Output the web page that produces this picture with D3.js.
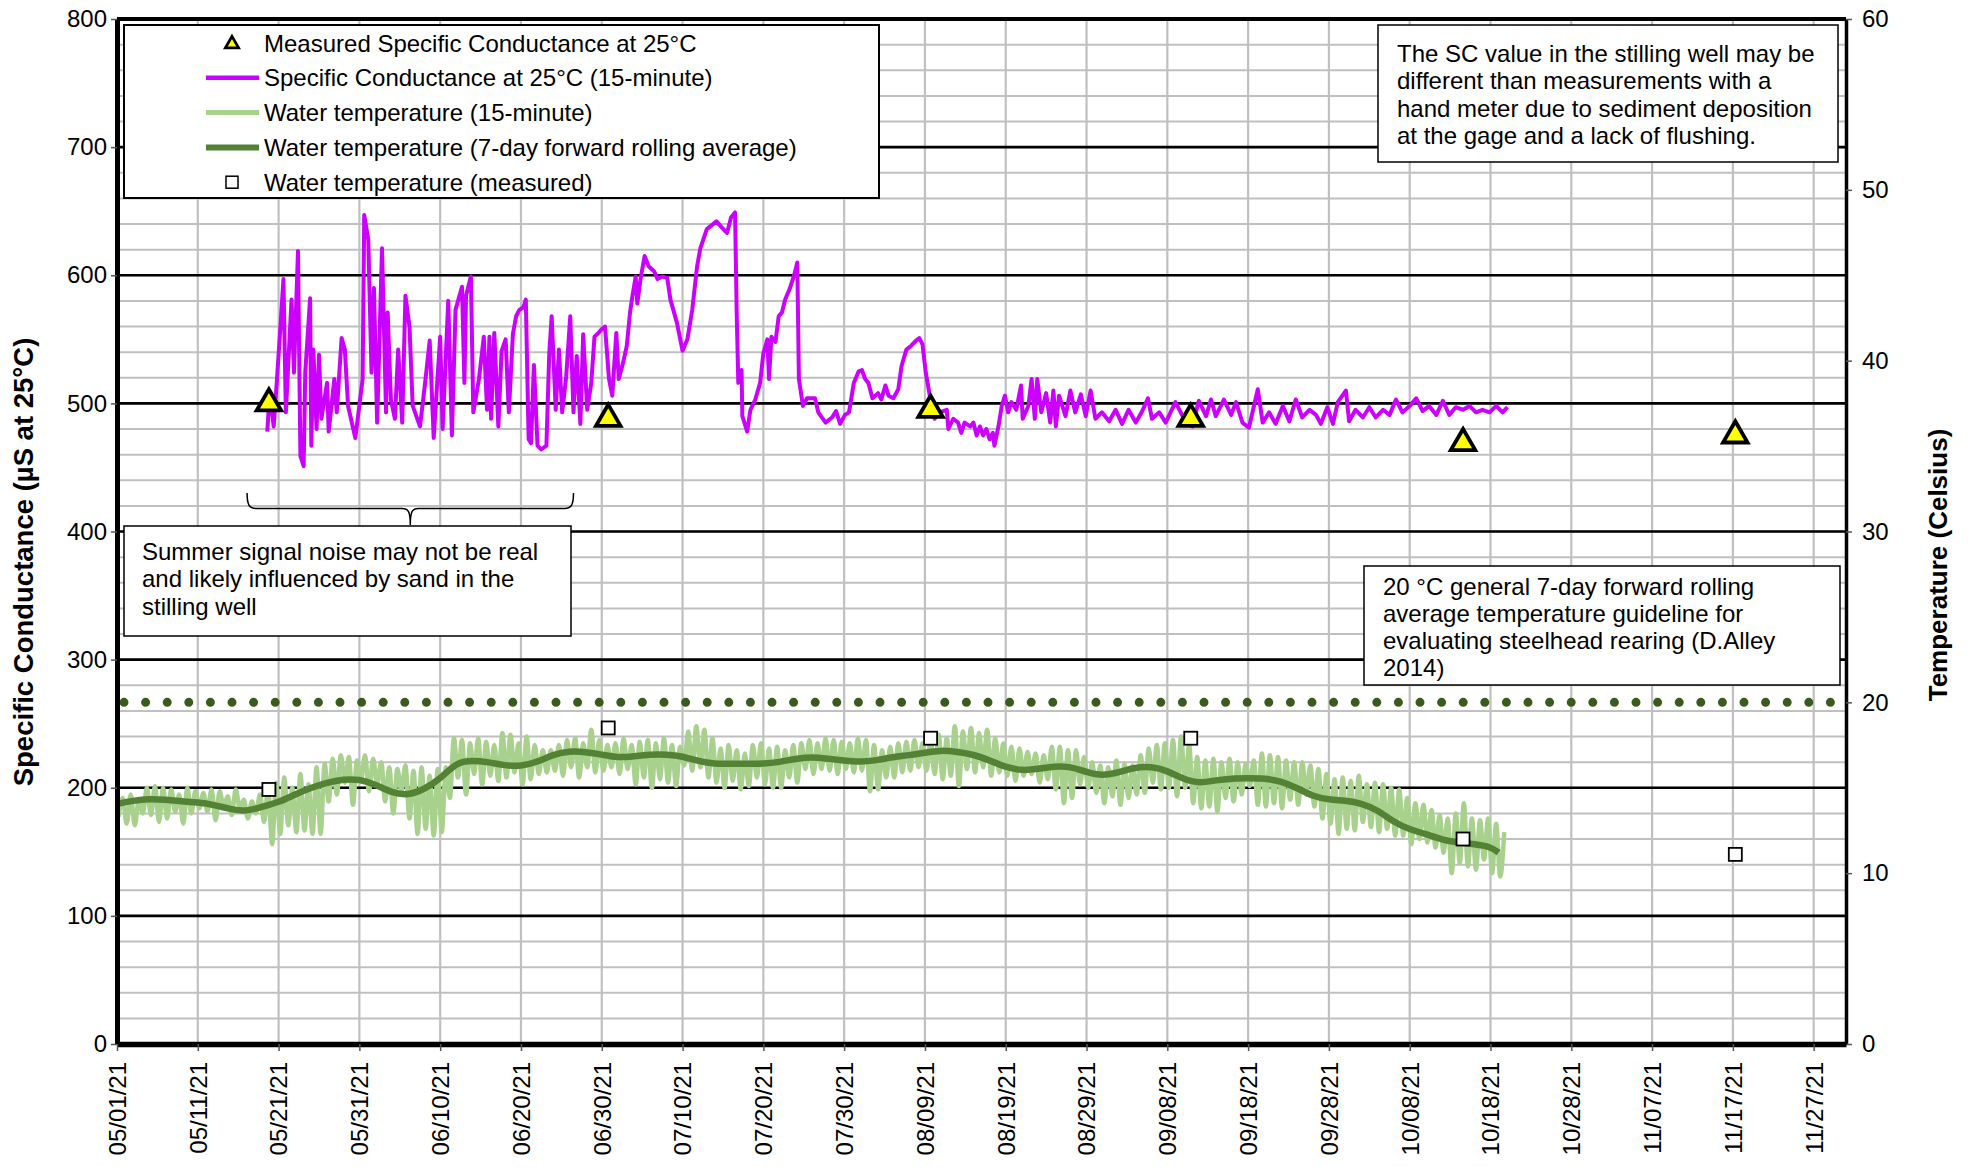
<!DOCTYPE html>
<html>
<head>
<meta charset="utf-8">
<script src="https://cdn.jsdelivr.net/npm/d3@7"></script>
<style>
  body { margin: 0; background: #fff; }
  svg text { font-family: "Liberation Sans", Arial, sans-serif; fill: #000; }
</style>
</head>
<body>
<svg id="chart"></svg>
<script>
// x tick labels, every 10 days from 05/01/21
const tickLabels = ["05/01/21", "05/11/21", "05/21/21", "05/31/21", "06/10/21", "06/20/21", "06/30/21",
  "07/10/21", "07/20/21", "07/30/21", "08/09/21", "08/19/21", "08/29/21", "09/08/21", "09/18/21",
  "09/28/21", "10/08/21", "10/18/21", "10/28/21", "11/07/21", "11/17/21", "11/27/21"];
const scTicks = [0, 100, 200, 300, 400, 500, 600, 700, 800];
const tempTicks = [0, 10, 20, 30, 40, 50, 60];
const guideline = 20;

// field measurements, day offset from 05/01/21
const measDay = [18.8, 60.8, 100.7, 132.9, 166.6, 200.3];
const measSC = [500, 488, 495, 488, 469, 475];
const measTemp = [14.9, 18.5, 17.9, 17.9, 12.0, 11.1];

// 15-minute specific conductance [day offset, uS]
const scSeries = [[18.6,478],[18.9,508],[19.4,482],[19.8,519],[20.25,562],[20.6,597],[20.9,493],[21.6,581],[21.9,524],[22.4,619],[22.7,459],[23.1,451],[23.3,524],[23.9,582],[24.05,467],[24.3,542],[24.7,480],[25.0,538],[25.3,488],[26.0,516],[26.2,478],[26.9,519],[27.2,493],[27.8,551],[28.2,542],[28.6,498],[29.5,473],[30.4,519],[30.6,647],[31.1,628],[31.5,524],[31.8,590],[32.2,485],[32.8,621],[33.3,493],[33.5,571],[33.9,503],[34.4,488],[34.8,542],[35.3,485],[35.7,584],[36.2,560],[36.6,498],[37.5,482],[38.1,514],[38.7,549],[39.2,473],[40.0,552],[40.3,480],[41.0,580],[41.45,475],[41.9,573],[42.7,591],[43.0,516],[43.2,584],[43.8,599],[44.1,493],[44.8,519],[45.4,552],[45.8,495],[46.1,552],[46.3,488],[46.7,555],[47.2,482],[47.6,541],[48.1,550],[48.5,493],[49.0,554],[49.4,568],[49.8,573],[50.3,575],[50.6,581],[50.95,472],[51.25,469],[51.6,530],[52.05,467],[52.5,464],[53.15,467],[53.5,539],[53.8,568],[54.3,495],[54.7,542],[55.1,493],[55.6,521],[56.1,568],[56.5,493],[56.9,537],[57.35,484],[57.7,554],[58.2,495],[58.7,516],[59.1,552],[59.6,555],[60.0,558],[60.4,560],[60.9,519],[61.3,506],[61.8,555],[62.1,519],[62.65,532],[63.1,545],[63.5,571],
  [63.8,584],[64.2,599],[64.4,578],[64.8,597],[65.3,615],[65.8,607],[66.5,603],[66.9,597],[67.5,599],[68.1,598],[68.5,581],[69.3,563],[70.0,541],[70.6,550],[71.2,573],[71.8,607],[72.2,621],[73.0,636],[74.2,642],[74.9,637],[75.5,633],[76.0,645],[76.5,649],[76.7,571],[76.9,516],[77.3,526],[77.4,490],[78.0,478],[78.4,495],[79.0,503],[79.6,516],[80.0,539],[80.5,550],[80.7,519],[81.0,552],[81.5,548],[81.9,568],[82.3,571],[82.7,581],[83.3,590],[83.9,602],[84.2,610],[84.4,519],[84.9,498],[85.4,504],[86.4,504],[86.8,493],[87.7,485],[88.5,489],[89.0,494],[89.5,484],[90.1,491],[90.6,493],[91.2,516],[91.8,525],[92.2,526],[92.6,519],[93.0,516],[93.5,504],[94.2,508],[94.6,503],[95.1,514],[95.5,506],[96.1,504],[96.7,511],[97.1,529],[97.7,542],[98.3,545],[98.9,549],[99.3,551],[99.7,546],[100.1,524],[100.6,506],[101.2,488],[101.8,493],[102.7,495],[102.9,480],[103.5,488],[104.1,485],[104.5,477],[104.9,485],[105.6,482],[106.0,485],[106.4,475],[106.8,482],[107.2,475],[107.6,480],[108.0,472],[108.4,477],[108.6,467],[109.1,482],[109.5,498],[109.9,506],[110.3,493],[110.7,501],[111.3,495],[111.9,514],[112.1,488],[112.8,498],[113.2,519],[113.6,488],[113.9,519],[114.4,493],[115.0,508],
  [115.5,485],[115.9,510],[116.2,482],[116.6,506],[117.4,490],[118.0,510],[118.6,493],[119.3,507],[119.9,490],[120.5,510],[121.1,488],[121.9,493],[122.8,486],[123.6,495],[124.4,484],[125.2,495],[126.1,485],[126.9,494],[127.6,504],[128.1,488],[129.0,493],[129.8,485],[131.0,501],[131.9,490],[133.1,482],[133.9,502],[134.8,490],[135.4,503],[136.0,490],[137.0,503],[137.9,491],[138.5,501],[139.3,485],[140.1,481],[141.2,511],[141.8,485],[142.6,493],[143.4,484],[144.3,498],[145.1,486],[145.9,503],[146.7,489],[147.6,495],[148.4,491],[149.0,484],[149.8,497],[150.5,484],[151.1,501],[152.1,510],[152.5,486],[153.3,495],[154.2,489],[155.0,497],[155.8,489],[156.7,495],[157.5,491],[158.3,503],[159.1,493],[160.0,498],[160.8,504],[161.6,494],[162.4,498],[163.3,491],[164.1,502],[164.9,491],[165.7,497],[166.6,495],[167.4,498],[168.2,493],[169.0,495],[169.9,493],[170.7,498],[171.5,493],[172.1,497]];

// 15-minute water temperature, daily high and low (deg C), day 0 = 05/01/21
const tempMax = [14.4,14.6,14.3,15.0,15.1,15.0,14.9,14.6,15.0,14.8,
  14.7,14.9,14.8,14.5,14.9,14.3,14.2,14.6,
  14.9,15.3,15.6,15.0,15.8,15.2,16.2,
  16.4,16.7,16.9,16.8,16.6,16.9,16.7,16.5,
  16.2,16.1,16.3,16.0,16.2,15.7,16.1,16.2,
  17.9,17.8,17.6,17.9,17.7,17.5,
  18.2,18.1,17.6,18.0,17.5,17.2,
  17.2,17.5,17.8,17.9,17.6,18.4,17.8,17.5,
  17.6,17.9,17.5,17.7,17.8,17.6,17.9,17.5,17.4,
  18.3,18.6,18.4,17.9,
  17.3,17.5,17.2,17.0,17.5,17.6,17.3,17.4,
  17.2,17.5,17.6,17.8,17.6,
  17.9,17.8,17.7,17.6,17.9,17.8,17.5,17.2,17.4,
  17.6,17.7,17.8,17.6,17.8,18.1,17.9,
  18.6,18.3,18.5,18.2,18.4,17.9,
  17.6,17.4,17.3,17.1,17.0,16.9,17.4,
  17.4,17.2,17.2,16.8,16.5,
  16.3,16.2,16.6,16.4,16.3,16.9,
  17.3,17.5,17.6,17.8,18.0,17.5,
  16.8,16.6,16.7,16.5,16.7,16.5,16.4,16.6,
  17.0,16.9,16.8,16.6,16.5,16.5,16.3,16.1,
  15.8,15.5,15.6,15.4,15.7,
  15.2,15.3,15.2,15.0,14.9,
  14.4,14.1,14.0,13.7,13.4,13.2,
  13.5,14.1,13.2,13.1,13.2,12.9,12.4];
const tempMin = [13.3,12.9,12.8,13.5,13.4,13.0,13.2,13.6,12.9,13.5,
  13.8,13.6,13.1,13.9,13.4,13.8,13.2,13.5,
  13.0,11.7,12.3,12.8,12.4,12.5,12.3,
  12.3,14.2,14.6,15.3,14.0,15.5,14.8,15.2,
  14.2,13.5,14.8,13.2,12.3,12.6,12.2,12.4,
  14.4,15.6,14.6,15.8,15.2,15.7,
  15.4,15.6,15.9,15.2,15.5,15.8,
  15.9,16.0,15.7,16.2,15.6,16.2,15.9,16.0,
  16.2,15.8,16.1,15.2,15.6,15.0,15.5,15.3,15.1,
  16.3,16.0,16.2,15.6,
  15.3,15.0,15.4,14.9,15.1,15.6,15.2,15.0,
  15.0,15.6,15.3,16.1,15.8,
  16.1,16.0,15.8,16.1,15.9,16.0,14.8,14.9,15.6,
  15.6,15.9,16.0,16.2,16.0,15.8,15.5,
  15.7,15.1,16.1,15.9,16.2,15.7,
  15.9,15.7,15.4,15.7,15.8,15.3,15.5,
  14.9,14.1,14.4,15.2,15.0,
  14.7,14.1,14.5,14.0,14.4,14.6,
  14.7,15.3,14.9,15.0,14.5,15.0,
  14.1,13.8,13.9,13.6,14.4,14.2,14.6,15.1,
  14.0,13.9,14.1,13.8,14.3,14.0,14.6,13.9,
  13.2,12.9,12.3,12.6,12.5,
  13.0,12.7,12.4,12.6,12.2,
  12.2,11.7,12.0,11.8,11.5,11.2,
  10.0,10.6,10.4,10.2,10.8,10.0,9.8];

// 7-day forward rolling average [day offset, deg C]
const tempAvg = [[0,14.05],[2,14.25],[4,14.35],[6,14.3],[8,14.2],[10,14.15],[12,14.0],[14,13.75],[16,13.6],[18,13.9],
  [20,14.15],[22,14.6],[24,15.0],[26,15.3],[28,15.5],[30,15.5],[32,15.2],[34,14.7],[36,14.55],[38,14.9],
  [40,15.5],[42,16.5],[44,16.6],[46,16.5],[48,16.3],[50,16.25],[52,16.5],[54,16.95],[56,17.15],[58,17.1],
  [60,16.95],[62,16.75],[64,16.85],[66,16.95],[68,16.95],[70,16.85],[72,16.55],[74,16.4],[76,16.4],[78,16.4],
  [80,16.4],[82,16.5],[84,16.7],[86,16.8],[88,16.7],[90,16.6],[92,16.5],[94,16.6],[96,16.8],[98,16.9],
  [100,17.05],[102,17.2],[104,17.1],[106,16.95],[108,16.6],[110,16.2],[112,16.0],[114,16.1],[116,16.25],[118,16.25],
  [120,15.9],[122,15.7],[124,15.9],[126,16.2],[128,16.25],[130,16.0],[132,15.5],[134,15.25],[136,15.45],[138,15.55],
  [140,15.55],[142,15.55],[144,15.4],[146,15.0],[148,14.5],[150,14.3],[152,14.25],[154,14.1],[156,13.7],[158,13.0],
  [160,12.55],[162,12.3],[164,11.95],[166,11.8],[168,11.7],[170,11.55],[171,11.2]];

const W = 1969, H = 1167;
const mLeft = 117, mRight = 1846, mTop = 19, mBottom = 1044;
const fontSize = 24;
const start = Date.UTC(2021, 4, 1);
const dayToDate = d => new Date(start + d * 864e5);
const parseTick = d3.utcParse("%m/%d/%y");

const x = d3.scaleUtc().domain([dayToDate(0), dayToDate(214)]).range([mLeft, mRight]);
const ySC = d3.scaleLinear().domain([0, 800]).range([mBottom, mTop]);
const yT = d3.scaleLinear().domain([0, 60]).range([mBottom, mTop]);
const tickDates = tickLabels.map(parseTick);

const svg = d3.select("#chart").attr("width", W).attr("height", H);
svg.append("rect").attr("width", W).attr("height", H).attr("fill", "#fff");

// grid
const grid = svg.append("g");
grid.selectAll(".hmin").data(d3.range(20, 800, 20)).join("line")
  .attr("x1", mLeft).attr("x2", mRight)
  .attr("y1", d => ySC(d)).attr("y2", d => ySC(d))
  .attr("stroke", "#c0c0c0").attr("stroke-width", 2);
grid.selectAll(".vgrid").data(tickDates.slice(1)).join("line")
  .attr("x1", d => x(d)).attr("x2", d => x(d))
  .attr("y1", mTop).attr("y2", mBottom)
  .attr("stroke", "#c0c0c0").attr("stroke-width", 2.2);
grid.selectAll(".hmaj").data(scTicks.slice(1, -1)).join("line")
  .attr("x1", mLeft).attr("x2", mRight)
  .attr("y1", d => ySC(d)).attr("y2", d => ySC(d))
  .attr("stroke", "#000").attr("stroke-width", 2.6);

// 20 C guideline, dotted
svg.append("line")
  .attr("x1", mLeft + 7).attr("x2", mRight - 6)
  .attr("y1", yT(guideline)).attr("y2", yT(guideline))
  .attr("stroke", "#3a5a1e").attr("stroke-width", 9)
  .attr("stroke-linecap", "round").attr("stroke-dasharray", "0 21.6");

// 15-minute temperature: low in the morning, high in the afternoon
const tempPts = [];
tempMax.forEach((mx, i) => {
  tempPts.push([i + 0.2, tempMin[i]]);
  tempPts.push([i + 0.7, mx]);
});
const tLine = d3.line().x(d => x(dayToDate(d[0]))).y(d => yT(d[1])).curve(d3.curveMonotoneX);
svg.append("path").datum(tempPts)
  .attr("fill", "none").attr("stroke", "#a9d18e").attr("stroke-width", 4.5)
  .attr("stroke-linejoin", "round").attr("d", tLine);
svg.append("path").datum(tempAvg)
  .attr("fill", "none").attr("stroke", "#548235").attr("stroke-width", 6.5)
  .attr("stroke-linejoin", "round").attr("d", tLine.curve(d3.curveBasis));

// 15-minute SC
const scLine = d3.line().x(d => x(dayToDate(d[0]))).y(d => ySC(d[1]));
svg.append("path").datum(scSeries)
  .attr("fill", "none").attr("stroke", "#cc00ff").attr("stroke-width", 4)
  .attr("stroke-linejoin", "round").attr("d", scLine);

// measured temperature squares
svg.selectAll(".sq").data(measDay).join("rect")
  .attr("x", d => x(dayToDate(d)) - 6.5)
  .attr("y", (d, i) => yT(measTemp[i]) - 6.5)
  .attr("width", 13).attr("height", 13)
  .attr("fill", "#fff").attr("stroke", "#000").attr("stroke-width", 1.8);

// measured SC triangles
const tri = d3.symbol().type(d3.symbolTriangle).size(260);
svg.selectAll(".tri").data(measDay).join("path")
  .attr("transform", (d, i) => "translate(" + x(dayToDate(d)) + "," + ySC(measSC[i]) + ")")
  .attr("d", tri)
  .attr("fill", "#ffff00").attr("stroke", "#000").attr("stroke-width", 3.8)
  .attr("stroke-linejoin", "miter");

// axes
const leftAxis = svg.append("g")
  .attr("transform", "translate(" + mLeft + ",0)")
  .call(d3.axisLeft(ySC).tickValues(scTicks).tickSize(6).tickSizeOuter(0).tickPadding(4));
const rightAxis = svg.append("g")
  .attr("transform", "translate(" + mRight + ",0)")
  .call(d3.axisRight(yT).tickValues(tempTicks).tickSize(6).tickSizeOuter(0).tickPadding(10));
const botAxis = svg.append("g")
  .attr("transform", "translate(0," + mBottom + ")")
  .call(d3.axisBottom(x).tickValues(tickDates).tickFormat((d, i) => tickLabels[i]).tickSize(7).tickSizeOuter(0));

[leftAxis, rightAxis, botAxis].forEach(a => {
  a.attr("font-family", null).attr("font-size", null);
  a.selectAll("text").attr("font-size", fontSize).attr("fill", "#000");
  a.selectAll(".tick line").attr("stroke", "#555").attr("stroke-width", 1.5);
});
leftAxis.select(".domain").attr("stroke", "#000").attr("stroke-width", 5);
rightAxis.select(".domain").attr("stroke", "#000").attr("stroke-width", 3.5);
botAxis.select(".domain").attr("stroke", "#000").attr("stroke-width", 5.5);
botAxis.selectAll("text")
  .attr("text-anchor", "end")
  .attr("transform", "translate(0,18) rotate(-90)")
  .attr("x", 0).attr("y", 0).attr("dy", "0.35em");
svg.append("line")
  .attr("x1", mLeft).attr("x2", mRight).attr("y1", mTop).attr("y2", mTop)
  .attr("stroke", "#000").attr("stroke-width", 4);

// axis titles
svg.append("text")
  .attr("transform", "translate(23,562) rotate(-90)")
  .attr("text-anchor", "middle").attr("dominant-baseline", "central")
  .attr("font-size", 27.5).attr("font-weight", "bold")
  .text("Specific Conductance (µS at 25°C)");
svg.append("text")
  .attr("transform", "translate(1938,565) rotate(-90)")
  .attr("text-anchor", "middle").attr("dominant-baseline", "central")
  .attr("font-size", 26).attr("font-weight", "bold")
  .text("Temperature (Celsius)");

// annotation boxes
function noteBox(bx, by, bw, bh, tx, ty, lines, gap) {
  const g = svg.append("g");
  g.append("rect").attr("x", bx).attr("y", by).attr("width", bw).attr("height", bh)
    .attr("fill", "#fff").attr("stroke", "#000").attr("stroke-width", 1.5);
  const t = g.append("text").attr("font-size", fontSize);
  lines.forEach((l, i) => {
    t.append("tspan").attr("x", tx).attr("y", ty + i * gap).text(l);
  });
}
noteBox(1378, 25, 460, 137, 1397, 62, [
  "The SC value in the stilling well may be",
  "different than measurements with a",
  "hand meter due to sediment deposition",
  "at the gage and a lack of flushing."], 27.3);
noteBox(124, 526, 447, 110, 142, 560, [
  "Summer signal noise may not be real",
  "and likely influenced by sand in the",
  "stilling well"], 27.3);
noteBox(1364, 566, 476, 119, 1383, 595, [
  "20 °C general 7-day forward rolling",
  "average temperature guideline for",
  "evaluating steelhead rearing (D.Alley",
  "2014)"], 27);

// brace over the noisy summer period
const bx0 = x(dayToDate(16.1)), bx1 = x(dayToDate(56.5)), bxm = (bx0 + bx1) / 2;
const by0 = ySC(430), by1 = ySC(418), by2 = ySC(405);
svg.append("path")
  .attr("d", "M" + bx0 + "," + by0 + " C" + bx0 + "," + (by1 - 4) + " " + (bx0 + 2) + "," + by1 + " " + (bx0 + 9) + "," + by1 +
    " L" + (bxm - 8) + "," + by1 + " C" + (bxm - 2) + "," + by1 + " " + bxm + "," + (by1 + 3) + " " + bxm + "," + by2 +
    " C" + bxm + "," + (by1 + 3) + " " + (bxm + 2) + "," + by1 + " " + (bxm + 8) + "," + by1 +
    " L" + (bx1 - 9) + "," + by1 + " C" + (bx1 - 2) + "," + by1 + " " + bx1 + "," + (by1 - 4) + " " + bx1 + "," + by0)
  .attr("fill", "none").attr("stroke", "#000").attr("stroke-width", 1.5);

// legend
const legend = svg.append("g");
legend.append("rect").attr("x", 124).attr("y", 25).attr("width", 755).attr("height", 173)
  .attr("fill", "#fff").attr("stroke", "#000").attr("stroke-width", 2);
const legendItems = [
  { label: "Measured Specific Conductance at 25°C", kind: "tri" },
  { label: "Specific Conductance at 25°C (15-minute)", kind: "line", color: "#cc00ff", w: 4.5 },
  { label: "Water temperature (15-minute)", kind: "line", color: "#a9d18e", w: 5 },
  { label: "Water temperature (7-day forward rolling average)", kind: "line", color: "#548235", w: 6 },
  { label: "Water temperature (measured)", kind: "sq" }
];
legendItems.forEach((it, i) => {
  const ly = 43 + i * 34.8;
  if (it.kind === "line") {
    legend.append("line").attr("x1", 206).attr("x2", 259).attr("y1", ly).attr("y2", ly)
      .attr("stroke", it.color).attr("stroke-width", it.w);
  } else if (it.kind === "tri") {
    legend.append("path").attr("transform", "translate(232," + (ly + 1) + ")")
      .attr("d", d3.symbol().type(d3.symbolTriangle).size(75))
      .attr("fill", "#ffff00").attr("stroke", "#000").attr("stroke-width", 2.8);
  } else {
    legend.append("rect").attr("x", 226).attr("y", ly - 6).attr("width", 12).attr("height", 12)
      .attr("fill", "#fff").attr("stroke", "#000").attr("stroke-width", 1.5);
  }
  legend.append("text").attr("x", 264).attr("y", ly + 8.5).attr("font-size", fontSize).text(it.label);
});
</script>
</body>
</html>
